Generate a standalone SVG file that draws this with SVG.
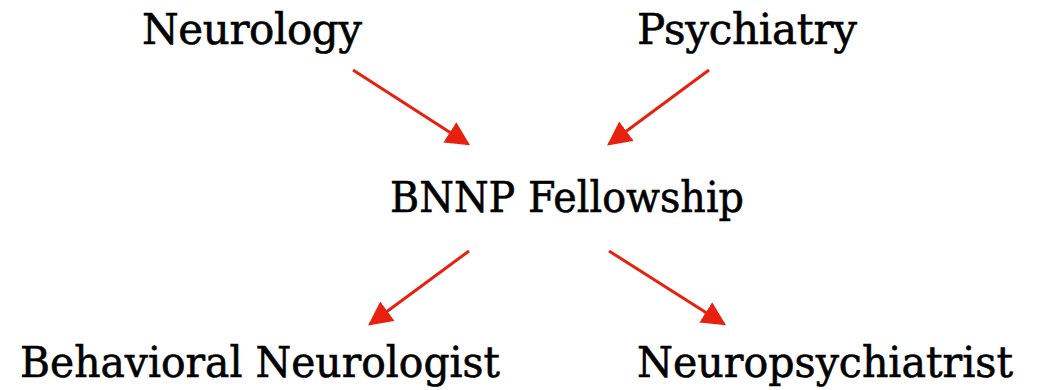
<svg xmlns="http://www.w3.org/2000/svg" width="1038" height="390" viewBox="0 0 1038 390">
  <style>
    .label { font-family: "DejaVu Serif", "Liberation Serif", serif; font-size: 42px; fill: #000; stroke: #000; stroke-width: 0.6; text-anchor: middle; }
    .link { stroke: #e8200f; stroke-width: 3; fill: none; marker-end: url(#head); }
  </style>
  <defs>
    <marker id="head" viewBox="0 0 10 10" refX="9" refY="5" markerWidth="8" markerHeight="8" markerUnits="strokeWidth" orient="auto">
      <path d="M0,0 L10,5 L0,10 Z" fill="#e8200f"/>
    </marker>
  </defs>
  <rect width="1038" height="390" fill="#fff"/>
  <g id="connectors">
    <line class="link" x1="353" y1="70" x2="468" y2="144"/>
    <line class="link" x1="709" y1="70" x2="609" y2="144"/>
    <line class="link" x1="469" y1="251" x2="370" y2="324"/>
    <line class="link" x1="609" y1="251" x2="724" y2="324"/>
  </g>
  <g id="neurology"><text class="label" x="252" y="44" textLength="220">Neurology</text></g>
  <g id="psychiatry"><text class="label" x="747" y="44" textLength="220">Psychiatry</text></g>
  <g id="bnnp-fellowship"><text class="label" x="567" y="212" textLength="354" lengthAdjust="spacingAndGlyphs">BNNP Fellowship</text></g>
  <g id="behavioral-neurologist"><text class="label" x="260" y="377" textLength="480" lengthAdjust="spacingAndGlyphs">Behavioral Neurologist</text></g>
  <g id="neuropsychiatrist"><text class="label" x="825" y="377" textLength="376" lengthAdjust="spacingAndGlyphs">Neuropsychiatrist</text></g>
</svg>
